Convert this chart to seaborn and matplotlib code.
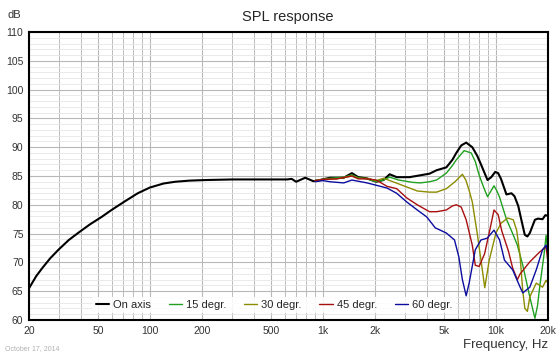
import numpy as np
import pandas as pd
import seaborn as sns
import matplotlib
matplotlib.use("Agg")
import matplotlib.pyplot as plt
from matplotlib.ticker import FixedLocator, MultipleLocator, NullFormatter

# data (Hz, dB)
on_axis_f = [20, 22, 23.7, 26.5, 29.6, 34, 39.2, 45, 52.6, 60, 71.6, 85, 100, 120, 140, 170, 210,
             300, 400, 500, 620, 660, 700, 790, 880, 960, 1100, 1320, 1470, 1600, 1790, 2030,
             2240, 2430, 2670, 3170, 3780, 4130, 4540, 5170, 5600, 5900, 6300, 6730, 7300, 7800,
             8200, 8940, 9400, 9900, 10300, 10700, 11500, 12300, 12800, 13460, 14000, 14680,
             15200, 15700, 16800, 17500, 18600, 19300, 20000]
on_axis_db = [65.5, 67.6, 68.9, 70.7, 72.2, 73.9, 75.3, 76.6, 77.9, 79.1, 80.6, 82.0, 83.0, 83.7,
              84.0, 84.2, 84.3, 84.4, 84.4, 84.4, 84.4, 84.5, 84.0, 84.7, 84.1, 84.3, 84.7, 84.7,
              85.5, 84.8, 84.6, 84.0, 84.3, 85.3, 84.8, 84.8, 85.2, 85.4, 86.0, 86.5, 87.8, 89.0,
              90.3, 90.8, 90.0, 88.5, 87.0, 84.3, 84.8, 85.7, 85.5, 84.5, 81.8, 82.0, 81.5, 79.8,
              77.5, 74.8, 74.5, 75.1, 77.4, 77.6, 77.5, 78.2, 78.1]

deg15_f = [900, 1000, 1100, 1320, 1470, 1600, 1800, 2030, 2240, 2430, 2740, 3290, 3650, 4130,
           4540, 5170, 5600, 5900, 6550, 7200, 7600, 7990, 8500, 8940, 9400, 9750, 10100, 10500,
           11500, 12500, 13300, 14300, 15700, 16800, 17400, 17900, 19000, 19500, 20000]
deg15_db = [84.2, 84.4, 84.6, 84.8, 85.2, 84.7, 84.5, 84.0, 84.3, 84.8, 84.3, 83.9, 83.8, 84.0,
            84.3, 85.5, 86.8, 87.8, 89.4, 89.0, 87.5, 85.2, 83.0, 81.4, 82.5, 83.3, 82.5, 81.3,
            77.5, 75.0, 73.0, 69.5, 64.0, 60.3, 62.5, 65.7, 71.5, 74.7, 71.6]

deg30_f = [900, 1000, 1200, 1470, 1600, 1800, 2030, 2240, 2540, 3050, 3510, 4130, 4540, 5170,
           5800, 6400, 6700, 7000, 7300, 7800, 8300, 8620, 9150, 10000, 10700, 11700, 12600,
           13200, 13800, 14300, 14700, 15200, 15700, 17100, 18600, 19500, 20000]
deg30_db = [84.2, 84.4, 84.5, 85.0, 84.6, 84.6, 84.2, 84.6, 84.0, 83.1, 82.4, 82.2, 82.2, 82.8,
            84.0, 85.3, 84.3, 82.5, 80.5, 75.0, 69.2, 65.6, 70.4, 75.1, 76.8, 77.7, 77.4, 75.5,
            71.0, 65.0, 62.0, 61.5, 64.0, 66.4, 65.7, 66.9, 66.4]

deg45_f = [900, 1000, 1200, 1470, 1600, 1800, 2030, 2350, 2670, 3050, 3510, 4130, 4540, 5170,
           5600, 5900, 6300, 6730, 7300, 7600, 8000, 8600, 9200, 9750, 10300, 10800, 11800,
           12500, 13300, 13800, 15700, 17900, 19500, 20000]
deg45_db = [84.2, 84.4, 84.5, 85.0, 84.5, 84.5, 84.3, 83.2, 82.8, 81.2, 80.0, 78.8, 78.8, 79.1,
            79.8, 80.0, 79.6, 77.4, 73.0, 69.5, 69.3, 71.5, 75.5, 79.1, 78.3, 75.5, 72.0, 69.0,
            67.0, 68.0, 70.1, 71.8, 72.7, 70.0]

deg60_f = [900, 1000, 1100, 1320, 1470, 1800, 2030, 2350, 2670, 3050, 3510, 3980, 4460, 5170,
           5760, 6100, 6400, 6730, 7000, 7600, 8200, 8900, 9750, 10500, 11200, 12500, 13800,
           14300, 15700, 17100, 18600, 19500, 20000]
deg60_db = [84.0, 84.2, 84.0, 83.8, 84.3, 83.8, 83.4, 82.9, 82.0, 80.5, 79.1, 77.9, 76.0, 75.1,
            73.9, 71.0, 67.0, 64.2, 66.4, 72.2, 73.9, 74.2, 75.6, 73.9, 70.4, 68.7, 65.7, 64.7,
            65.7, 68.7, 72.2, 73.0, 71.6]

series_names = ["On axis", "15 degr.", "30 degr.", "45 degr.", "60 degr."]
series_data = [(on_axis_f, on_axis_db), (deg15_f, deg15_db), (deg30_f, deg30_db),
               (deg45_f, deg45_db), (deg60_f, deg60_db)]
colors = ["#000000", "#20a020", "#8c8c00", "#a80f0f", "#0c0c9e"]
widths = [1.5, 1.0, 1.0, 1.0, 1.0]

x_ticks = [20, 50, 100, 200, 500, 1000, 2000, 5000, 10000, 20000]
x_tick_labels = ["20", "50", "100", "200", "500", "1k", "2k", "5k", "10k", "20k"]

sns.set_style("white")
plt.rcParams["font.family"] = ["Liberation Sans", "DejaVu Sans"]

fig = plt.figure(figsize=(5.6, 3.56), dpi=100)
ax = fig.add_axes([29 / 560, 1 - 320 / 356, 519 / 560, 288 / 356])

frames = []
for name, (f, db) in zip(series_names, series_data):
    frames.append(pd.DataFrame({"Frequency": f, "SPL": db, "Series": name}))
df = pd.concat(frames, ignore_index=True)

for name, c, lw in zip(series_names, colors, widths):
    sns.lineplot(data=df[df["Series"] == name], x="Frequency", y="SPL", color=c,
                 linewidth=lw, label=name, estimator=None, sort=False, ax=ax)

ax.set_xscale("log")
ax.set_xlim(20, 20000)
ax.set_ylim(60, 110)

# grid
ax.xaxis.set_major_locator(FixedLocator(x_ticks))
ax.set_xticklabels(x_tick_labels)
ax.xaxis.set_minor_locator(matplotlib.ticker.LogLocator(base=10, subs=np.arange(1, 10), numticks=20))
ax.xaxis.set_minor_formatter(NullFormatter())
ax.yaxis.set_major_locator(MultipleLocator(5))
ax.yaxis.set_minor_locator(MultipleLocator(1))
ax.grid(True, which="major", color="#b8b8b8", linewidth=0.8)
ax.grid(True, which="minor", axis="x", color="#bcbcbc", linewidth=0.7)
ax.grid(True, which="minor", axis="y", color="#e6e6e6", linewidth=0.6)
ax.set_axisbelow(True)

ax.tick_params(which="both", length=0, labelsize=7.5, labelcolor="#333333", pad=4)
for s in ax.spines.values():
    s.set_visible(True)
    s.set_color("black")
    s.set_linewidth(1.5)

ax.set_xlabel("")
ax.set_ylabel("")

leg = ax.legend(loc="center", bbox_to_anchor=(0.472, 0.052), ncol=5, fontsize=8,
                frameon=True, facecolor="white", edgecolor="none", framealpha=0.85,
                handlelength=1.2, handletextpad=0.35, columnspacing=1.6,
                borderpad=0.3, fancybox=False)

fig.text(288 / 560, 1 - 17 / 356, "SPL response", ha="center", va="center", fontsize=10.5)
fig.text(8 / 560, 1 - 15 / 356, "dB", ha="left", va="center", fontsize=8, color="#333333")
fig.text(548 / 560, 1 - 345 / 356, "Frequency, Hz", ha="right", va="center", fontsize=9.5,
         color="#333333")
fig.text(5 / 560, 1 - 349 / 356, "October 17, 2014", ha="left", va="center", fontsize=5,
         color="#b0b0b0")

fig.savefig("out.png", dpi=100)
